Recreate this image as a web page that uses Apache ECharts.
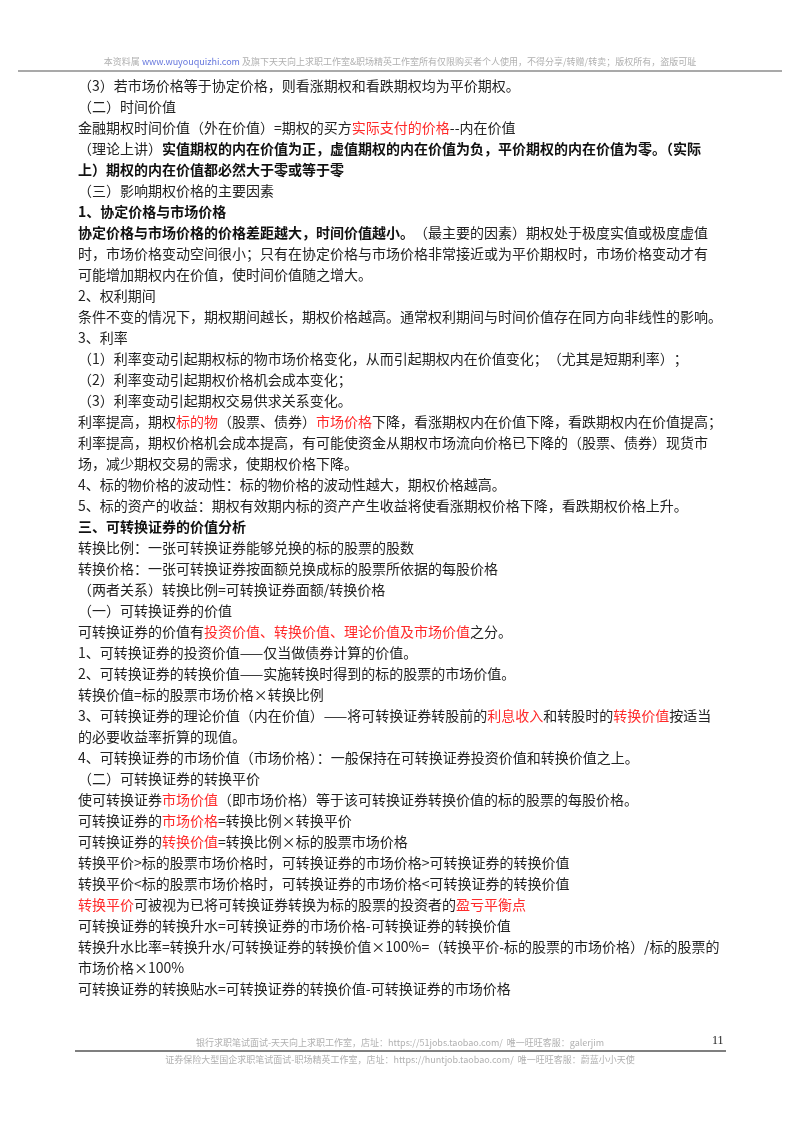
<!DOCTYPE html>
<html><head><meta charset="utf-8">
<script src="https://cdn.jsdelivr.net/npm/echarts@6/dist/echarts.min.js"></script>
<style>html,body{margin:0;padding:0;background:#fff}#c{width:800px;height:1132px}</style>
</head><body><div id="c"></div>
<script>
const headerText = ['本资料属 ', 'www.wuyouquizhi.com', ' 及旗下天天向上求职工作室&职场精英工作室所有仅限购买者个人使用，不得分享/转赠/转卖；版权所有，盗版可耻'];
const footerLine1 = '银行求职笔试面试-天天向上求职工作室，店址：https://51jobs.taobao.com/  唯一旺旺客服：galerjim';
const footerLine2 = '证券保险大型国企求职笔试面试-职场精英工作室，店址：https://huntjob.taobao.com/  唯一旺旺客服：蔚蓝小小天使';
const pageNumber = '11';
// each line: list of [text, style] where n=normal, r=red, b=bold
const lines = [
 [['（3）若市场价格等于协定价格，则看涨期权和看跌期权均为平价期权。','n']],
 [['（二）时间价值','n']],
 [['金融期权时间价值（外在价值）=期权的买方','n'],['实际支付的价格','r'],['--内在价值','n']],
 [['（理论上讲）','n'],['实值期权的内在价值为正，虚值期权的内在价值为负，平价期权的内在价值为零。（实际','b']],
 [['上）期权的内在价值都必然大于零或等于零','b']],
 [['（三）影响期权价格的主要因素','n']],
 [['1、协定价格与市场价格','b']],
 [['协定价格与市场价格的价格差距越大，时间价值越小。','b'],['（最主要的因素）期权处于极度实值或极度虚值','n']],
 [['时，市场价格变动空间很小；只有在协定价格与市场价格非常接近或为平价期权时，市场价格变动才有','n']],
 [['可能增加期权内在价值，使时间价值随之增大。','n']],
 [['2、权利期间','n']],
 [['条件不变的情况下，期权期间越长，期权价格越高。通常权利期间与时间价值存在同方向非线性的影响。','n']],
 [['3、利率','n']],
 [['（1）利率变动引起期权标的物市场价格变化，从而引起期权内在价值变化；（尤其是短期利率）；','n']],
 [['（2）利率变动引起期权价格机会成本变化；','n']],
 [['（3）利率变动引起期权交易供求关系变化。','n']],
 [['利率提高，期权','n'],['标的物','r'],['（股票、债券）','n'],['市场价格','r'],['下降，看涨期权内在价值下降，看跌期权内在价值提高；','n']],
 [['利率提高，期权价格机会成本提高，有可能使资金从期权市场流向价格已下降的（股票、债券）现货市','n']],
 [['场，减少期权交易的需求，使期权价格下降。','n']],
 [['4、标的物价格的波动性：标的物价格的波动性越大，期权价格越高。','n']],
 [['5、标的资产的收益：期权有效期内标的资产产生收益将使看涨期权价格下降，看跌期权价格上升。','n']],
 [['三、可转换证券的价值分析','b']],
 [['转换比例：一张可转换证券能够兑换的标的股票的股数','n']],
 [['转换价格：一张可转换证券按面额兑换成标的股票所依据的每股价格','n']],
 [['（两者关系）转换比例=可转换证券面额/转换价格','n']],
 [['（一）可转换证券的价值','n']],
 [['可转换证券的价值有','n'],['投资价值、转换价值、理论价值及市场价值','r'],['之分。','n']],
 [['1、可转换证券的投资价值——仅当做债券计算的价值。','n']],
 [['2、可转换证券的转换价值——实施转换时得到的标的股票的市场价值。','n']],
 [['转换价值=标的股票市场价格×转换比例','n']],
 [['3、可转换证券的理论价值（内在价值）——将可转换证券转股前的','n'],['利息收入','r'],['和转股时的','n'],['转换价值','r'],['按适当','n']],
 [['的必要收益率折算的现值。','n']],
 [['4、可转换证券的市场价值（市场价格）：一般保持在可转换证券投资价值和转换价值之上。','n']],
 [['（二）可转换证券的转换平价','n']],
 [['使可转换证券','n'],['市场价值','r'],['（即市场价格）等于该可转换证券转换价值的标的股票的每股价格。','n']],
 [['可转换证券的','n'],['市场价格','r'],['=转换比例×转换平价','n']],
 [['可转换证券的','n'],['转换价值','r'],['=转换比例×标的股票市场价格','n']],
 [['转换平价>标的股票市场价格时，可转换证券的市场价格>可转换证券的转换价值','n']],
 [['转换平价<标的股票市场价格时，可转换证券的市场价格<可转换证券的转换价值','n']],
 [['转换平价','r'],['可被视为已将可转换证券转换为标的股票的投资者的','n'],['盈亏平衡点','r']],
 [['可转换证券的转换升水=可转换证券的市场价格-可转换证券的转换价值','n']],
 [['转换升水比率=转换升水/可转换证券的转换价值×100%=（转换平价-标的股票的市场价格）/标的股票的','n']],
 [['市场价格×100%','n']],
 [['可转换证券的转换贴水=可转换证券的转换价值-可转换证券的市场价格','n']]
];

const chart = echarts.init(document.getElementById('c'));
const FF = '"Noto Sans CJK SC", sans-serif';
const FS = 14;
const rich = {
  n:{fontSize:FS, fontFamily:FF, fill:'#222'},
  r:{fontSize:FS, fontFamily:FF, fill:'#ff2a2a'},
  b:{fontSize:FS, fontFamily:FF, fill:'#111', fontWeight:'bold'},
  hg:{fontSize:9, fontFamily:FF, fill:'#b0b0b0'},
  hl:{fontSize:9, fontFamily:FF, fill:'#6677dd'}
};
const graphic = [];
lines.forEach((ln, i) => {
  graphic.push({type:'text', left:78, top:79 + 21*i,
    style:{text: ln.map(([t,s]) => '{'+s+'|'+t+'}').join(''), rich, fontSize:FS, fontFamily:FF}});
});
graphic.push({type:'text', left:'center', top:57, style:{text:'{hg|'+headerText[0]+'}{hl|'+headerText[1]+'}{hg|'+headerText[2]+'}', rich}});
graphic.push({type:'line', shape:{x1:18,y1:71,x2:782,y2:71}, style:{stroke:'#555', lineWidth:1.2}});
graphic.push({type:'text', left:'center', top:1038, style:{text:footerLine1, fontSize:9, fontFamily:FF, fill:'#b0b0b0'}});
graphic.push({type:'text', left:712, top:1035, style:{text:pageNumber, fontSize:12, fontFamily:'"Liberation Serif", serif', fill:'#222'}});
graphic.push({type:'line', shape:{x1:75,y1:1051,x2:726,y2:1051}, style:{stroke:'#555', lineWidth:1.5}});
graphic.push({type:'text', left:'center', top:1055, style:{text:footerLine2, fontSize:9, fontFamily:FF, fill:'#b0b0b0'}});
chart.setOption({animation:false, backgroundColor:'#fff', graphic});
</script></body></html>
